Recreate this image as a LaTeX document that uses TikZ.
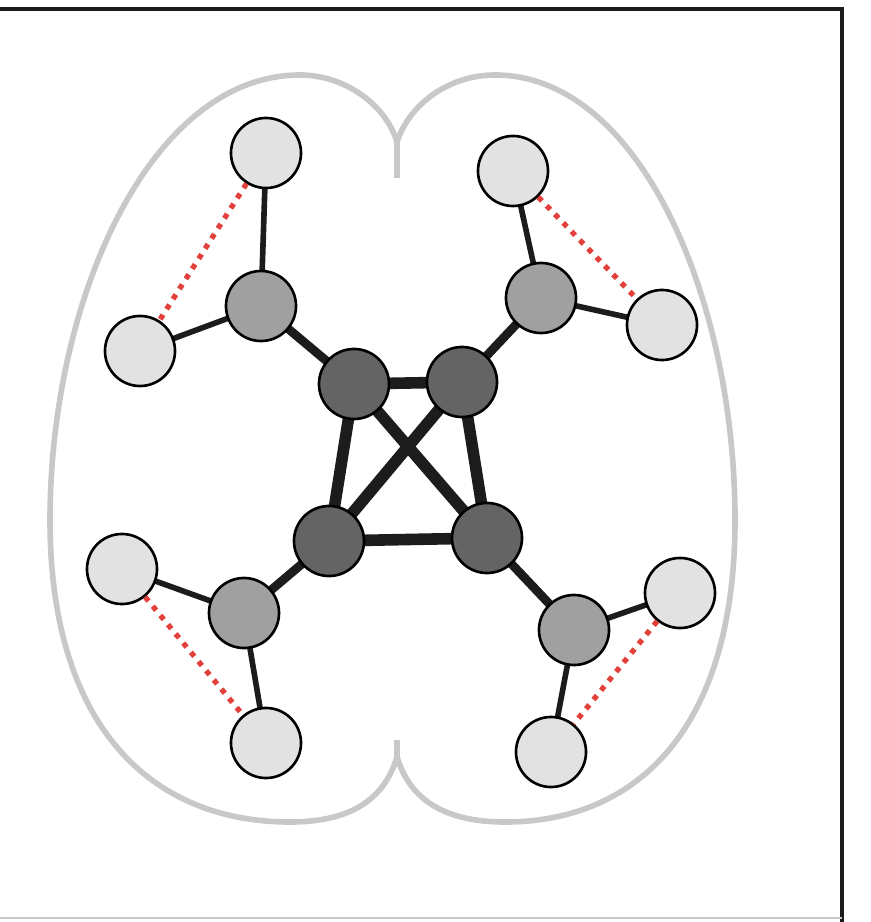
\documentclass[tikz,border=0pt]{standalone}
\usepackage{tikz}
\usepackage{xcolor}
\definecolor{hubDark}{HTML}{646464}
\definecolor{hubMid}{HTML}{A0A0A0}
\definecolor{leafLight}{HTML}{E2E2E2}
\definecolor{edgeInk}{HTML}{1C1C1C}
\definecolor{linkRed}{HTML}{E2403A}
\definecolor{brainGray}{HTML}{C8C8C8}
\pgfdeclarelayer{background}
\pgfsetlayers{background,main}

\begin{document}
\begin{tikzpicture}[x=0.01cm, y=-0.01cm]
  \useasboundingbox (0,0) rectangle (871,922);
  \draw[edgeInk, line width=1pt] (0,9) -- (842,9) -- (842,922);
  \draw[brainGray, line width=0.6pt] (0,918) -- (842,918);
  % brain outline
  \draw[brainGray, line width=1.6pt, line join=round]
    (397,142) .. controls (409,105) and (448,75) .. (495,75)
    .. controls (640,75) and (735,300) .. (735,520)
    .. controls (735,725) and (640,822) .. (505,822)
    .. controls (445,822) and (410,800) .. (397,757)
    .. controls (384,800) and (350,822) .. (290,822)
    .. controls (150,822) and (50,725) .. (50,520)
    .. controls (50,300) and (150,75) .. (300,75)
    .. controls (345,75) and (386,105) .. (397,142);
  \draw[brainGray, line width=1.6pt] (397,142) -- (397,178);
  \draw[brainGray, line width=1.6pt] (397,757) -- (397,740);
  % core
  \node[circle, draw, line width=0.75pt, minimum size=0.7cm, inner sep=0pt, fill=hubDark] (C1) at (354,384) {};
  \node[circle, draw, line width=0.75pt, minimum size=0.7cm, inner sep=0pt, fill=hubDark] (C2) at (462,382) {};
  \node[circle, draw, line width=0.75pt, minimum size=0.7cm, inner sep=0pt, fill=hubDark] (C3) at (329,541) {};
  \node[circle, draw, line width=0.75pt, minimum size=0.7cm, inner sep=0pt, fill=hubDark] (C4) at (487,538) {};
  % hubs
  \node[circle, draw, line width=0.75pt, minimum size=0.7cm, inner sep=0pt, fill=hubMid] (H1) at (261,306) {};
  \node[circle, draw, line width=0.75pt, minimum size=0.7cm, inner sep=0pt, fill=hubMid] (H2) at (541,298) {};
  \node[circle, draw, line width=0.75pt, minimum size=0.7cm, inner sep=0pt, fill=hubMid] (H3) at (244,613) {};
  \node[circle, draw, line width=0.75pt, minimum size=0.7cm, inner sep=0pt, fill=hubMid] (H4) at (574,630) {};
  % leaves
  \node[circle, draw, line width=0.75pt, minimum size=0.7cm, inner sep=0pt, fill=leafLight] (L1a) at (266,153) {};
  \node[circle, draw, line width=0.75pt, minimum size=0.7cm, inner sep=0pt, fill=leafLight] (L1b) at (140,351) {};
  \node[circle, draw, line width=0.75pt, minimum size=0.7cm, inner sep=0pt, fill=leafLight] (L2a) at (513,171) {};
  \node[circle, draw, line width=0.75pt, minimum size=0.7cm, inner sep=0pt, fill=leafLight] (L2b) at (662,325) {};
  \node[circle, draw, line width=0.75pt, minimum size=0.7cm, inner sep=0pt, fill=leafLight] (L3a) at (122,569) {};
  \node[circle, draw, line width=0.75pt, minimum size=0.7cm, inner sep=0pt, fill=leafLight] (L3b) at (266,743) {};
  \node[circle, draw, line width=0.75pt, minimum size=0.7cm, inner sep=0pt, fill=leafLight] (L4a) at (680,593) {};
  \node[circle, draw, line width=0.75pt, minimum size=0.7cm, inner sep=0pt, fill=leafLight] (L4b) at (551,752) {};
  \begin{pgfonlayer}{background}
    \draw[edgeInk, line width=3.3pt] (C1.center) -- (C2.center);
    \draw[edgeInk, line width=3.3pt] (C1.center) -- (C3.center);
    \draw[edgeInk, line width=3.3pt] (C1.center) -- (C4.center);
    \draw[edgeInk, line width=3.3pt] (C2.center) -- (C3.center);
    \draw[edgeInk, line width=3.3pt] (C2.center) -- (C4.center);
    \draw[edgeInk, line width=3.3pt] (C3.center) -- (C4.center);
    \draw[edgeInk, line width=2.5pt] (C1.center) -- (H1.center);
    \draw[edgeInk, line width=2.5pt] (C2.center) -- (H2.center);
    \draw[edgeInk, line width=2.5pt] (C3.center) -- (H3.center);
    \draw[edgeInk, line width=2.5pt] (C4.center) -- (H4.center);
    \draw[edgeInk, line width=1.6pt] (H1.center) -- (L1a.center);
    \draw[edgeInk, line width=1.6pt] (H1.center) -- (L1b.center);
    \draw[edgeInk, line width=1.6pt] (H2.center) -- (L2a.center);
    \draw[edgeInk, line width=1.6pt] (H2.center) -- (L2b.center);
    \draw[edgeInk, line width=1.6pt] (H3.center) -- (L3a.center);
    \draw[edgeInk, line width=1.6pt] (H3.center) -- (L3b.center);
    \draw[edgeInk, line width=1.6pt] (H4.center) -- (L4a.center);
    \draw[edgeInk, line width=1.6pt] (H4.center) -- (L4b.center);
  \end{pgfonlayer}
  \draw[linkRed, line width=1.5pt, dash pattern=on 1.5pt off 1.9pt] (L1a) -- (L1b);
  \draw[linkRed, line width=1.5pt, dash pattern=on 1.5pt off 1.9pt] (L2a) -- (L2b);
  \draw[linkRed, line width=1.5pt, dash pattern=on 1.5pt off 1.9pt] (L3a) -- (L3b);
  \draw[linkRed, line width=1.5pt, dash pattern=on 1.5pt off 1.9pt] (L4a) -- (L4b);
\end{tikzpicture}
\end{document}
